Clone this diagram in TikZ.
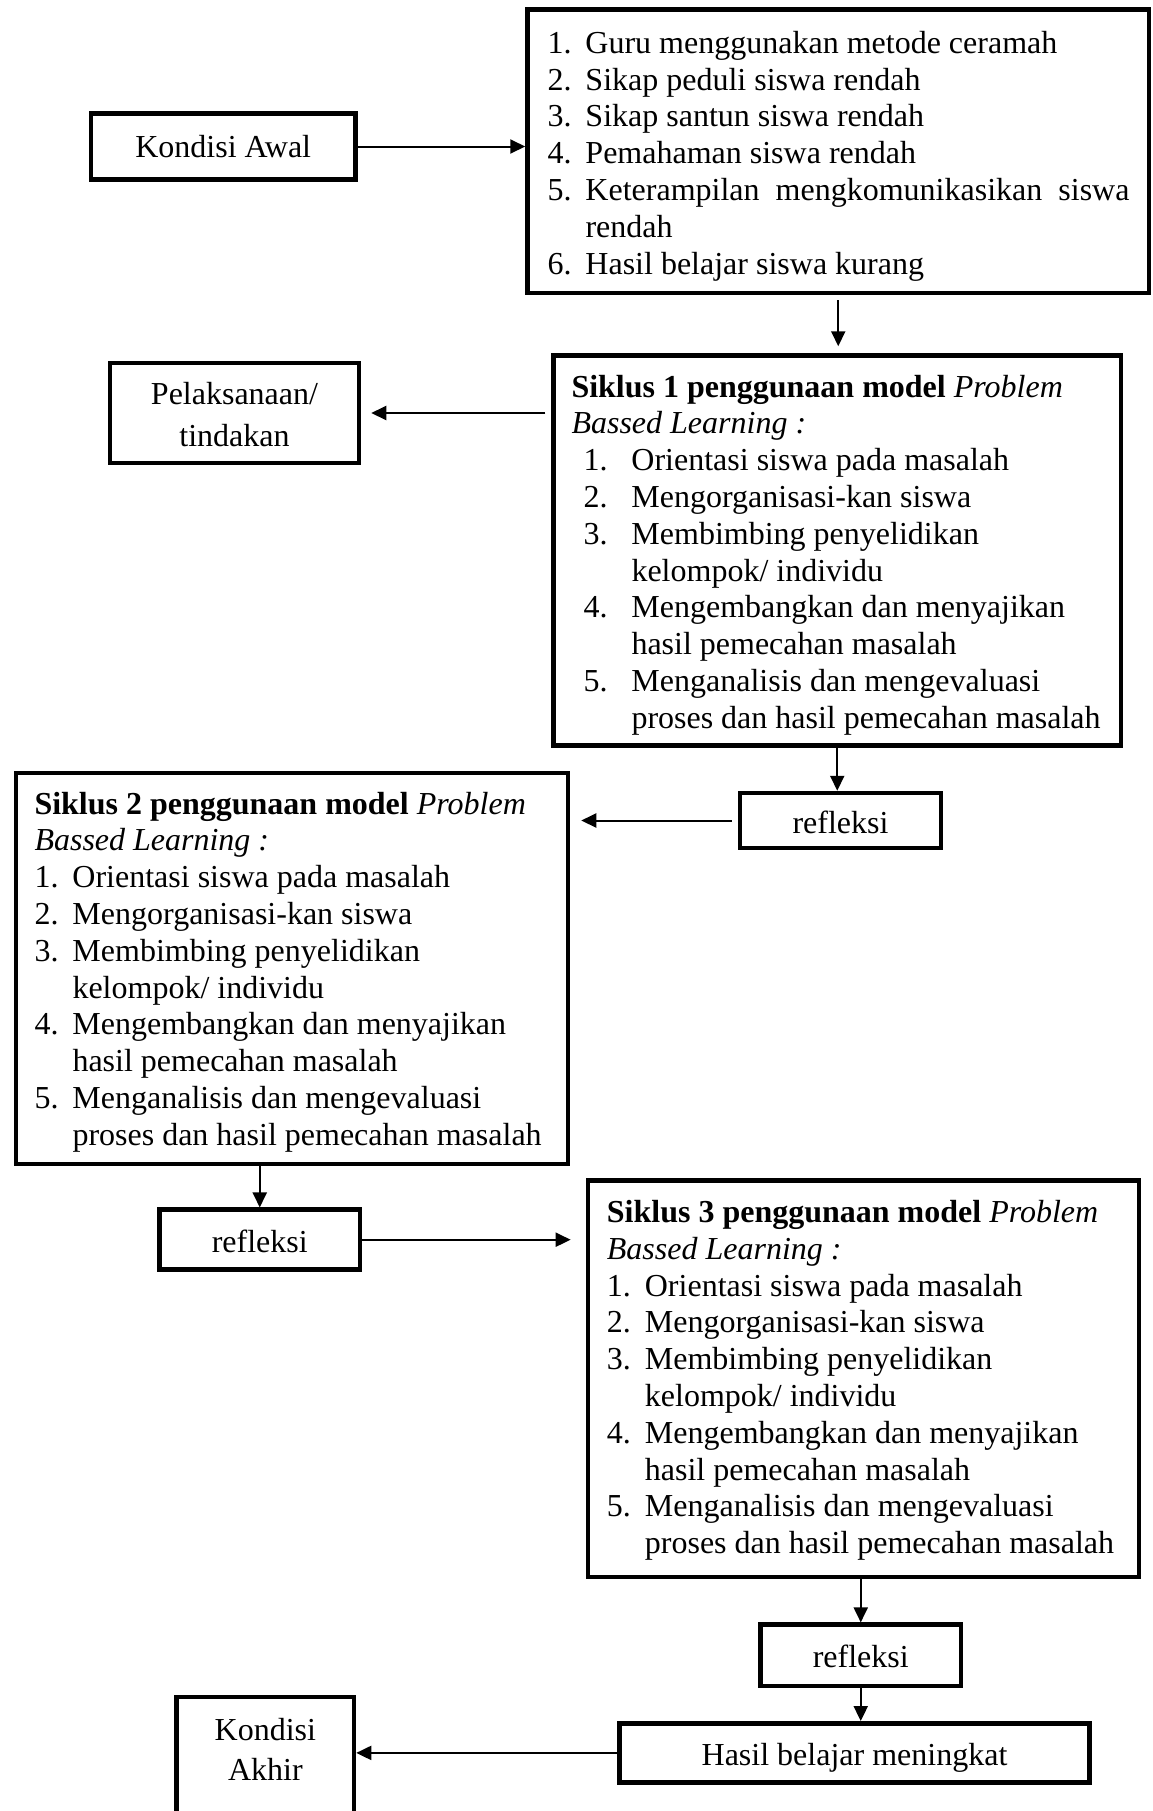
\documentclass[tikz,border=0pt]{standalone}
\usepackage{fontspec}
\setmainfont{Liberation Serif}
\usetikzlibrary{arrows.meta}

\newcommand{\nomor}[2][19pt]{\makebox[#1][l]{#2}}

\begin{document}
\begin{tikzpicture}[
  x=0.5pt, y=-0.5pt,
  every node/.style={font=\fontsize{16}{18.4}\selectfont},
  kotak/.style={draw, line width=2.25pt, inner sep=0pt, align=center,
    execute at begin node={\spaceskip=0pt\xspaceskip=0pt\relax}},
  isi/.style={kotak, align=left},
  panah/.style={-{Triangle[length=7.5pt,width=7pt]}, line width=1pt}
]
\useasboundingbox (0,0) rectangle (1152,1811);
\clip (0,0) rectangle (1152,1811);

\node (awal) [kotak, minimum width=132.25pt, minimum height=33pt] at (223.25,146.5) {Kondisi Awal};
\node (daftar) [isi, inner xsep=10pt, text width=290.75pt, text height=22pt, text depth=119.85pt] at (838.25,151.2) {%
\nomor{1.}Guru menggunakan metode ceramah\\
\nomor{2.}Sikap peduli siswa rendah\\
\nomor{3.}Sikap santun siswa rendah\\
\nomor{4.}Pemahaman siswa rendah\\
\nomor{5.}\makebox[272pt][s]{Keterampilan mengkomunikasikan siswa}\\
\hspace*{19pt}rendah\\
\nomor{6.}Hasil belajar siswa kurang};
\node (pelaksanaan) [kotak, font=\fontsize{16}{21.3}\selectfont, text width=124.5pt, text height=20.5pt, text depth=29.5pt] at (234.5,413) {Pelaksanaan/\\tindakan};
\node (siklus1) [isi, inner xsep=9pt, text width=265.75pt, text height=20.75pt, text depth=174.25pt] at (837.25,550.5) {%
\textbf{Siklus 1 penggunaan model} \textit{Problem}\\
\textit{Bassed Learning :}\\
\hspace*{6pt}\nomor[24pt]{1.}Orientasi siswa pada masalah\\
\hspace*{6pt}\nomor[24pt]{2.}Mengorganisasi-kan siswa\\
\hspace*{6pt}\nomor[24pt]{3.}Membimbing penyelidikan\\
\hspace*{30pt}kelompok/ individu\\
\hspace*{6pt}\nomor[24pt]{4.}Mengembangkan dan menyajikan\\
\hspace*{30pt}hasil pemecahan masalah\\
\hspace*{6pt}\nomor[24pt]{5.}Menganalisis dan mengevaluasi\\
\hspace*{30pt}\mbox{proses dan hasil pemecahan masalah}};
\node (refleksi1) [kotak, minimum width=100.5pt, text height=20.15pt, text depth=7.35pt] at (840.5,820.5) {refleksi};
\node (siklus2) [isi, inner xsep=9.25pt, text width=257.5pt, text height=20.5pt, text depth=175pt] at (292,968.5) {%
\textbf{Siklus 2 penggunaan model} \textit{Problem}\\
\textit{Bassed Learning :}\\
\nomor{1.}Orientasi siswa pada masalah\\
\nomor{2.}Mengorganisasi-kan siswa\\
\nomor{3.}Membimbing penyelidikan\\
\hspace*{19pt}kelompok/ individu\\
\nomor{4.}Mengembangkan dan menyajikan\\
\hspace*{19pt}hasil pemecahan masalah\\
\nomor{5.}Menganalisis dan mengevaluasi\\
\hspace*{19pt}\mbox{proses dan hasil pemecahan masalah}};
\node (refleksi2) [kotak, minimum width=100.25pt, text height=21.6pt, text depth=8.4pt] at (259.75,1239.7) {refleksi};
\node (siklus3) [isi, inner xsep=9.5pt, text width=256.5pt, text height=21pt, text depth=177.25pt] at (863.4,1378.75) {%
\textbf{Siklus 3 penggunaan model} \textit{Problem}\\
\textit{Bassed Learning :}\\
\nomor{1.}Orientasi siswa pada masalah\\
\nomor{2.}Mengorganisasi-kan siswa\\
\nomor{3.}Membimbing penyelidikan\\
\hspace*{19pt}kelompok/ individu\\
\nomor{4.}Mengembangkan dan menyajikan\\
\hspace*{19pt}hasil pemecahan masalah\\
\nomor{5.}Menganalisis dan mengevaluasi\\
\hspace*{19pt}\mbox{proses dan hasil pemecahan masalah}};
\node (refleksi3) [kotak, minimum width=100.25pt, text height=21.4pt, text depth=9.25pt] at (860.75,1655.3) {refleksi};
\node (hasil) [kotak, minimum width=235pt, text height=20.85pt, text depth=8.75pt] at (854.5,1752.9) {Hasil belajar meningkat};
\node (akhir) [kotak, anchor=north, font=\fontsize{16}{20}\selectfont, text width=88.65pt, text height=21.5pt, text depth=60pt] at (265.35,1694.75) {Kondisi\\Akhir};

\draw[panah] (awal.east) -- (awal.east -| daftar.west);
\draw[panah, shorten <=2.5pt, shorten >=3.5pt] (daftar.south) -- (daftar.south |- siklus1.north);
\draw[panah, shorten <=3pt, shorten >=5pt] (siklus1.west |- pelaksanaan) -- (pelaksanaan.east);
\draw[panah] (siklus1.south) -- (siklus1.south |- refleksi1.north);
\draw[panah, shorten <=3pt, shorten >=5.5pt] (refleksi1.west) -- (refleksi1.west -| siklus2.east);
\draw[panah] (refleksi2.north |- siklus2.south) -- (refleksi2.north);
\draw[panah, shorten >=7.5pt] (refleksi2.east) -- (refleksi2.east -| siklus3.west);
\draw[panah] (refleksi3.north |- siklus3.south) -- (refleksi3.north);
\draw[panah] (refleksi3.south) -- (refleksi3.south |- hasil.north);
\draw[panah] (hasil.west) -- (hasil.west -| akhir.east);
\end{tikzpicture}
\end{document}
